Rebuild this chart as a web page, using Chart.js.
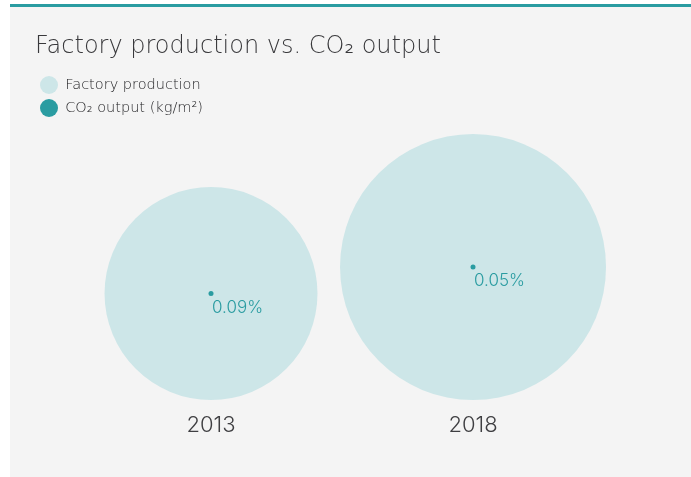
<!DOCTYPE html>
<html>
<head>
<meta charset="utf-8">
<script src="https://cdn.jsdelivr.net/npm/chart.js@4/dist/chart.umd.min.js"></script>
<style>
  html, body { margin: 0; padding: 0; background: #ffffff; width: 691px; height: 477px; overflow: hidden; }
  #card { position: absolute; left: 10px; top: 4px; width: 700px; height: 500px; background: #f4f4f4; border-top: 3px solid #2a9ca1; }
  #wrap { position: absolute; left: 0; top: 0; width: 691px; height: 477px; }
</style>
</head>
<body>
<div id="card"></div>
<div id="wrap"><canvas id="c" width="691" height="477"></canvas></div>
<script>
// ---- data ----
const years = [2013, 2018];
const factoryProduction = [50, 78];      // relative production (bubble area)
const co2Output = [0.09, 0.05];          // CO2 output, %
const seriesNames = ['Factory production', 'CO\u2082 output (kg/m\u00b2)'];
const chartTitle = 'Factory production vs. CO\u2082 output';

// ---- style ----
const TEAL = '#2a9ca1';
const LIGHT = '#cde6e8';
const TEXT = '#3f3f42';
const TITLE_FONT = '"DejaVu Sans", sans-serif';
const NUM_FONT = 'Inter, "Open Sans", sans-serif';
const BUBBLE_K = 4.591; // bubble radius (y units) per sqrt(value)

const rUnits = v => BUBBLE_K * Math.sqrt(v);
const pxRadius = (chart, units) => {
  const y = chart.scales.y;
  return Math.abs(y.getPixelForValue(0) - y.getPixelForValue(units));
};

const bubbleData = years.map((yr, i) => ({ x: yr, y: rUnits(factoryProduction[i]) }));
const dotData = years.map((yr, i) => ({ x: yr, y: rUnits(factoryProduction[i]) }));

const valueLabels = {
  id: 'valueLabels',
  afterDatasetsDraw(chart) {
    const meta = chart.getDatasetMeta(1);
    const ctx = chart.ctx;
    ctx.save();
    ctx.font = '300 17px ' + NUM_FONT;
    ctx.fillStyle = TEAL;
    ctx.textAlign = 'left';
    ctx.textBaseline = 'middle';
    meta.data.forEach((el, i) => {
      ctx.fillText(co2Output[i].toFixed(2) + '%', el.x + 1, el.y + 14);
    });
    ctx.restore();
  }
};

new Chart(document.getElementById('c'), {
  type: 'bubble',
  data: {
    datasets: [
      {
        label: seriesNames[0],
        data: bubbleData,
        parsing: false,
        backgroundColor: LIGHT,
        borderWidth: 0,
        hoverBorderWidth: 0,
        order: 1,
        radius: ctx => pxRadius(ctx.chart, ctx.raw.y),
        hoverRadius: 0
      },
      {
        label: seriesNames[1],
        data: dotData,
        parsing: false,
        backgroundColor: TEAL,
        borderWidth: 0,
        hoverBorderWidth: 0,
        order: 0,
        radius: 2.5,
        hoverRadius: 0
      }
    ]
  },
  options: {
    responsive: false,
    animation: false,
    events: [],
    layout: { padding: { top: 20, left: 35, right: 10, bottom: 26.6 } },
    scales: {
      x: {
        type: 'linear',
        min: 2009.641,
        max: 2021.969,
        grid: { display: false, drawTicks: false },
        border: { display: false },
        afterBuildTicks: s => { s.ticks = years.map(v => ({ value: v })); },
        ticks: {
          padding: 12,
          color: TEXT,
          font: { family: NUM_FONT, size: 22, weight: '300' },
          callback: v => String(v),
          maxRotation: 0,
          autoSkip: false
        }
      },
      y: { min: 0, max: 100, display: false }
    },
    plugins: {
      title: {
        display: true,
        text: chartTitle,
        align: 'start',
        color: '#38383b',
        font: { family: TITLE_FONT, size: 24, weight: '200', lineHeight: 1.2 },
        padding: { top: 12, bottom: 11.2 }
      },
      legend: {
        position: 'chartArea',
        align: 'start',
        title: { display: true, text: '', font: { size: 10, lineHeight: 1 }, padding: { top: 61, bottom: 0 } },
        labels: {
          color: '#1f1f22',
          font: { family: TITLE_FONT, size: 14.5, weight: '200' },
          boxWidth: 18,
          boxHeight: 18,
          useBorderRadius: true,
          borderRadius: 9,
          padding: 5,
          sort: (a, b) => a.datasetIndex - b.datasetIndex
        }
      },
      tooltip: { enabled: false }
    }
  },
  plugins: [valueLabels]
});
</script>
</body>
</html>
